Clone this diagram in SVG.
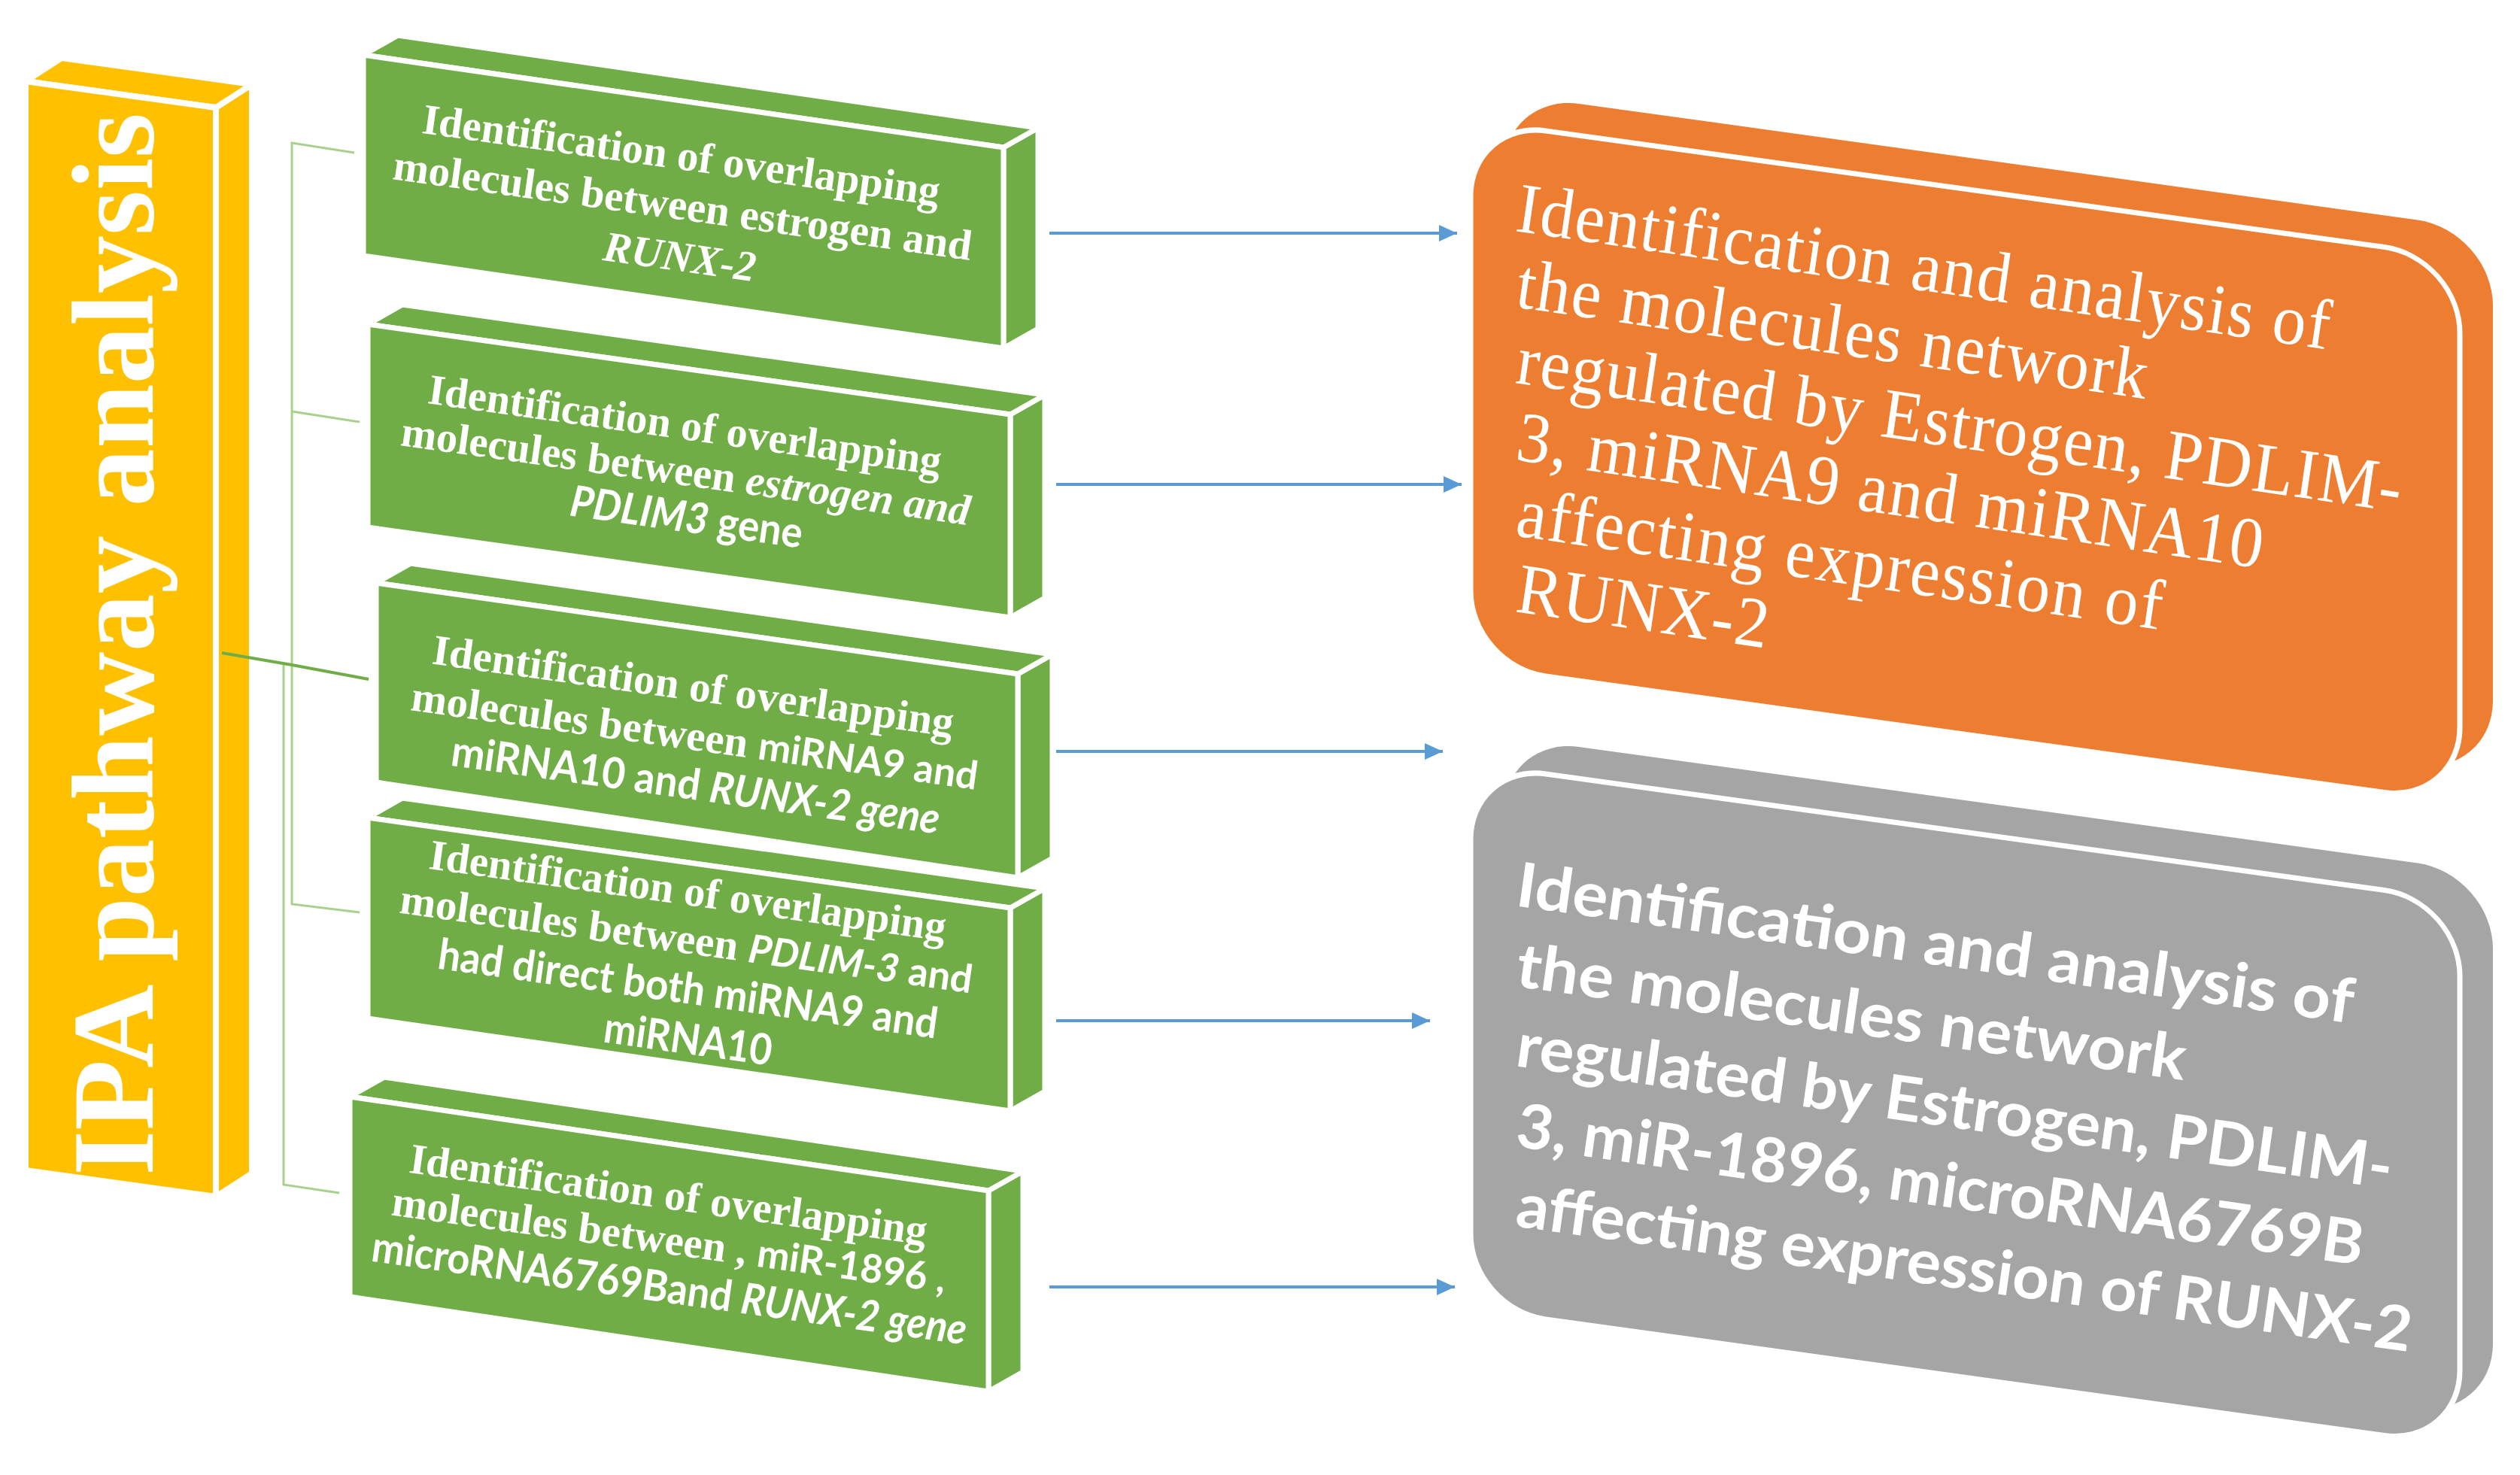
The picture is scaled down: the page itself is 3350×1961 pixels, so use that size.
<svg xmlns="http://www.w3.org/2000/svg" width="3350" height="1961" viewBox="0 0 3350 1961">
<style>
.bg{fill:#ffffff}
.gf{fill:#70AD47;stroke:#ffffff;stroke-width:7;stroke-linejoin:round}
.yf{fill:#FFC000;stroke:#ffffff;stroke-width:8;stroke-linejoin:round}
.of{fill:#ED7D31}
.ofs{fill:#ED7D31;stroke:#ffffff;stroke-width:7}
.rf{fill:#A5A5A5}
.rfs{fill:#A5A5A5;stroke:#ffffff;stroke-width:7}
.se{font-family:"Liberation Serif","Times New Roman",serif;font-weight:bold;fill:#ffffff;font-size:57px}
.sa{font-family:Lato,"Liberation Sans",sans-serif;font-weight:bold}
.it{font-style:italic}
.ot{font-family:"Liberation Serif","Times New Roman",serif;fill:#ffffff;font-size:95px}
.gt{font-family:Lato,"Liberation Sans",sans-serif;font-weight:bold;fill:#ffffff;font-size:82px}
.ipa{font-family:"Liberation Serif","Times New Roman",serif;font-weight:bold;fill:#ffffff;font-size:155px}
.arr{stroke:#5B9BD5;stroke-width:4;fill:none;marker-end:url(#ah)}
.cn{stroke:#A9D18E;stroke-width:3;fill:none}
.cm{stroke:#70AD47;stroke-width:4;fill:none}
</style>
<defs>
<marker id="ah" markerUnits="userSpaceOnUse" markerWidth="26" markerHeight="22" refX="24" refY="11" orient="auto">
<path d="M0,0 L24,11 L0,22 z" fill="#5B9BD5"/>
</marker>
</defs>
<rect class="bg" x="0" y="0" width="3350" height="1961"/>

<g id="ipa">
<polygon class="yf" points="287,143 335,112 335,1560 287,1591"/>
<polygon class="yf" points="34,108 82,77 335,112 287,143"/>
<polygon class="yf" points="34,108 287,143 287,1591 34,1556"/>
<text class="ipa" transform="translate(203,1563) rotate(-90)" textLength="1413" lengthAdjust="spacingAndGlyphs">IPA pathway analysis</text>
</g>

<g id="connectors">
<path class="cn" d="M471,203 L388,190 L388,1202 L478,1213"/>
<path class="cn" d="M388,547 L478,561"/>
<path class="cn" d="M377,884 L377,1575 L451,1586"/>
<path class="cm" d="M295,868 L388,884 L490,903"/>
<line class="arr" x1="1395" y1="310" x2="1937" y2="310"/>
<line class="arr" x1="1404" y1="644" x2="1943" y2="644"/>
<line class="arr" x1="1404" y1="999" x2="1918" y2="999"/>
<line class="arr" x1="1404" y1="1357" x2="1901" y2="1357"/>
<line class="arr" x1="1395" y1="1711" x2="1934" y2="1711"/>
</g>

<g id="box1">
<polygon class="gf" points="1334,196 1380,170 1380,437 1334,463"/>
<polygon class="gf" points="483,73 529,47 1380,170 1334,196"/>
<polygon class="gf" points="483,73 1334,196 1334,463 483,340"/>
<g text-anchor="middle">
<text class="se" transform="translate(903,225) rotate(8)" textLength="694" lengthAdjust="spacingAndGlyphs">Identification of overlapping</text>
<text class="se" transform="translate(905,292) rotate(8)" textLength="776" lengthAdjust="spacingAndGlyphs">molecules between estrogen and</text>
<text class="se it" transform="translate(901,360) rotate(8)" textLength="204" lengthAdjust="spacingAndGlyphs">RUNX-2</text>
</g>
</g>

<g id="box2">
<polygon class="gf" points="1343,551 1389,525 1389,795 1343,821"/>
<polygon class="gf" points="489,431 535,405 1389,525 1343,551"/>
<polygon class="gf" points="489,431 1343,551 1343,821 489,701"/>
<g text-anchor="middle">
<text class="se" transform="translate(908,584) rotate(8)" textLength="688" lengthAdjust="spacingAndGlyphs">Identification of overlapping</text>
<text class="se" transform="translate(909,645) rotate(8)" textLength="763" lengthAdjust="spacingAndGlyphs">molecules between <tspan class="it">estrogen and</tspan></text>
<text class="se sa" transform="translate(910,707) rotate(8)" font-size="52" textLength="311" lengthAdjust="spacingAndGlyphs"><tspan class="it">PDLIM3</tspan> gene</text>
</g>
</g>

<g id="box3">
<polygon class="gf" points="1353,896 1399,870 1399,1141 1353,1167"/>
<polygon class="gf" points="500,775 546,749 1399,870 1353,896"/>
<polygon class="gf" points="500,775 1353,896 1353,1167 500,1040"/>
<g text-anchor="middle">
<text class="se" transform="translate(919,931) rotate(8)" textLength="699" lengthAdjust="spacingAndGlyphs">Identification of overlapping</text>
<text class="se" transform="translate(921,997) rotate(8)" textLength="760" lengthAdjust="spacingAndGlyphs">molecules between <tspan class="sa" font-size="52">miRNA9 and</tspan></text>
<text class="se sa" transform="translate(922,1063) rotate(8)" font-size="52" textLength="655" lengthAdjust="spacingAndGlyphs">miRNA10 and <tspan class="it">RUNX-2 gene</tspan></text>
</g>
</g>

<g id="box4">
<polygon class="gf" points="1343,1207 1389,1181 1389,1451 1343,1477"/>
<polygon class="gf" points="489,1087 535,1061 1389,1181 1343,1207"/>
<polygon class="gf" points="489,1087 1343,1207 1343,1477 489,1354"/>
<g text-anchor="middle">
<text class="se" transform="translate(912,1203) rotate(8)" textLength="693" lengthAdjust="spacingAndGlyphs">Identification of overlapping</text>
<text class="se" transform="translate(910,1267) rotate(8)" textLength="768" lengthAdjust="spacingAndGlyphs">molecules between <tspan class="sa it" font-size="52">PDLIM-3</tspan><tspan class="sa" font-size="52"> and</tspan></text>
<text class="se sa" transform="translate(912,1334) rotate(8)" font-size="52" textLength="670" lengthAdjust="spacingAndGlyphs">had direct both miRNA9 and</text>
<text class="se sa" transform="translate(912,1401) rotate(8)" font-size="52" textLength="225" lengthAdjust="spacingAndGlyphs">miRNA10</text>
</g>
</g>

<g id="box5">
<polygon class="gf" points="1314,1583 1360,1557 1360,1824 1314,1850"/>
<polygon class="gf" points="465,1458 511,1432 1360,1557 1314,1583"/>
<polygon class="gf" points="465,1458 1314,1583 1314,1850 465,1724"/>
<g text-anchor="middle">
<text class="se" transform="translate(886,1607) rotate(8)" textLength="694" lengthAdjust="spacingAndGlyphs">Identification of overlapping</text>
<text class="se" transform="translate(887,1667) rotate(8)" textLength="743" lengthAdjust="spacingAndGlyphs">molecules between , <tspan class="sa" font-size="52">miR-1896 ,</tspan></text>
<text class="se sa" transform="translate(887,1732) rotate(8)" font-size="52" textLength="798" lengthAdjust="spacingAndGlyphs">microRNA6769Band <tspan class="it">RUNX-2 gene</tspan></text>
</g>
</g>

<g id="orange">
<rect class="of" transform="translate(1999,124) skewY(7.9)" x="0" y="0" width="1315" height="725" rx="100" ry="100"/>
<rect class="ofs" transform="translate(1955,160) skewY(7.9)" x="0" y="0" width="1315" height="725" rx="100" ry="100"/>
<text class="ot" transform="translate(2013,307) rotate(8.3) scale(0.945,1)" textLength="1155" lengthAdjust="spacing">Identification and analysis of</text>
<text class="ot" transform="translate(2013,408) rotate(8.3) scale(0.945,1)" textLength="896" lengthAdjust="spacing">the molecules network</text>
<text class="ot" transform="translate(2013,509) rotate(8.3) scale(0.945,1)" textLength="1257" lengthAdjust="spacing">regulated by Estrogen, PDLIM-</text>
<text class="ot" transform="translate(2013,611) rotate(8.3) scale(0.945,1)" textLength="1060" lengthAdjust="spacing">3, miRNA9 and miRNA10</text>
<text class="ot" transform="translate(2013,712) rotate(8.3) scale(0.945,1)" textLength="917" lengthAdjust="spacing">affecting expression of</text>
<text class="ot" transform="translate(2013,813) rotate(8.3) scale(0.945,1)" textLength="357" lengthAdjust="spacing">RUNX-2</text>
</g>

<g id="gray">
<rect class="rf" transform="translate(1999,979) skewY(7.9)" x="0" y="0" width="1315" height="725" rx="100" ry="100"/>
<rect class="rfs" transform="translate(1955,1015) skewY(7.9)" x="0" y="0" width="1315" height="725" rx="100" ry="100"/>
<text class="gt" transform="translate(2013,1204) rotate(8)" textLength="1123" lengthAdjust="spacingAndGlyphs">Identification and analysis of</text>
<text class="gt" transform="translate(2013,1311) rotate(8)" textLength="898" lengthAdjust="spacingAndGlyphs">the molecules network</text>
<text class="gt" transform="translate(2013,1417) rotate(8)" textLength="1175" lengthAdjust="spacingAndGlyphs">regulated by Estrogen, PDLIM-</text>
<text class="gt" transform="translate(2013,1524) rotate(8)" textLength="1136" lengthAdjust="spacingAndGlyphs">3, miR-1896, microRNA6769B</text>
<text class="gt" transform="translate(2013,1630) rotate(8)" textLength="1201" lengthAdjust="spacingAndGlyphs">affecting expression of RUNX-2</text>
</g>
</svg>
